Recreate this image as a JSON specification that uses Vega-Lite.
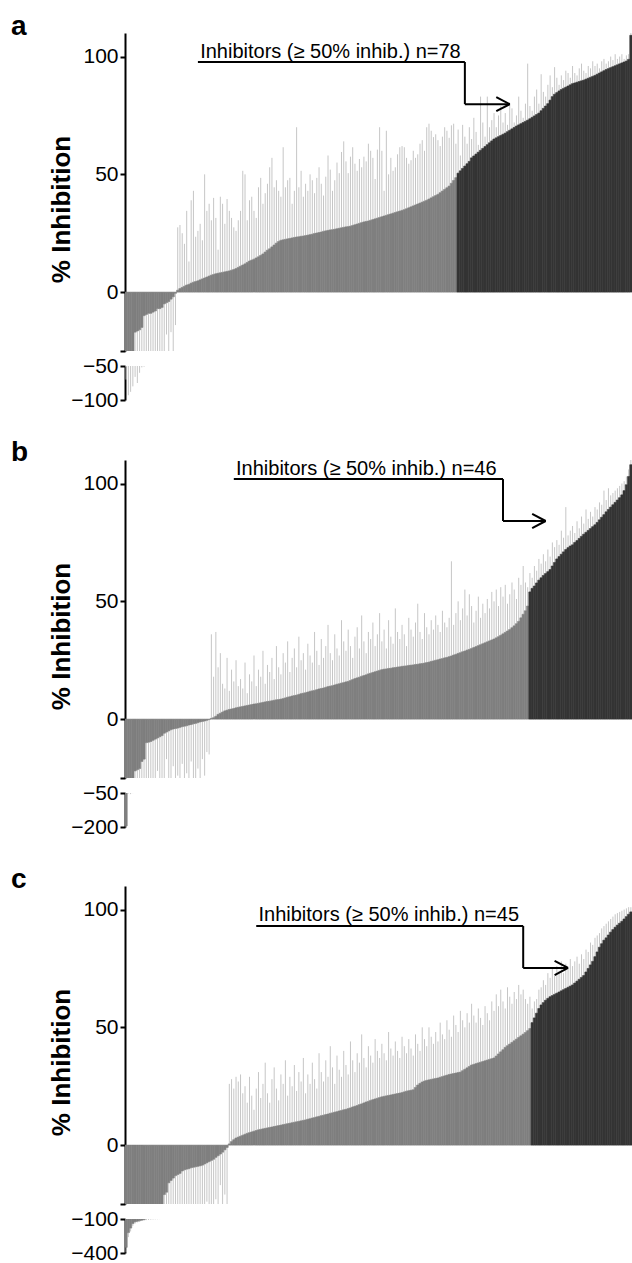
{
"$schema": "https://vega.github.io/schema/vega-lite/v6.json",
"padding": {"left": 11, "top": 13, "right": 0, "bottom": 0},
"datasets": {
"a": [{"v":-44,"h":-70},{"v":-37,"h":-93},{"v":-32,"h":-88},{"v":-28,"h":-80},{"v":-17,"h":-66},{"v":-16.5,"h":-75},{"v":-16,"h":-60},{"v":-15,"h":-52},{"v":-10,"h":-51},{"v":-9.5,"h":-26},{"v":-9,"h":-30},{"v":-9,"h":-27},{"v":-8.5,"h":-28},{"v":-8,"h":-29},{"v":-7,"h":-25},{"v":-7,"h":-30},{"v":-6.5,"h":-26},{"v":-5,"h":-28},{"v":-4.5,"h":-18},{"v":-4,"h":-27},{"v":-3,"h":-17},{"v":-2,"h":-29},{"v":-0.5,"h":-14},
{"v":0.8,"h":27.5},{"v":1.5,"h":28.5},{"v":2,"h":25},{"v":2.5,"h":20.5},{"v":3,"h":34.5},{"v":3.3,"h":13},{"v":3.8,"h":39},{"v":4.2,"h":43},{"v":4.5,"h":23.5},{"v":4.8,"h":26},
{"v":5.2,"h":29},{"v":5.6,"h":22},{"v":6,"h":50},{"v":6.4,"h":34.5},{"v":6.8,"h":37.5},{"v":7.2,"h":30.5},{"v":7.5,"h":40},{"v":7.8,"h":31.5},{"v":8,"h":18},{"v":8.2,"h":40.5},
{"v":8.4,"h":37.5},{"v":8.6,"h":29},{"v":8.8,"h":39.5},{"v":9,"h":34.5},{"v":9.3,"h":31.5},{"v":9.6,"h":27.5},{"v":10,"h":26},{"v":10.5,"h":30.5},{"v":11,"h":34.5},{"v":11.5,"h":51.5},
{"v":12,"h":50},{"v":12.6,"h":30.5},{"v":13.2,"h":39},{"v":13.6,"h":40.5},{"v":14,"h":34.5},{"v":14.5,"h":31.5},{"v":15,"h":44.5},{"v":15.6,"h":48.5},{"v":16.2,"h":37.5},{"v":17,"h":42},
{"v":17.8,"h":46},{"v":18.4,"h":53},{"v":19.2,"h":57},{"v":20,"h":44.5},{"v":20.8,"h":47.5},{"v":21.5,"h":43},{"v":22,"h":40.5},{"v":22.2,"h":61.5},{"v":22.4,"h":44.5},{"v":22.6,"h":47.5},
{"v":22.8,"h":48.5},{"v":23,"h":37.5},{"v":23.2,"h":43},{"v":23.4,"h":70},{"v":23.5,"h":44.5},{"v":23.7,"h":51.5},{"v":23.8,"h":40.5},{"v":24,"h":46},{"v":24.2,"h":43},{"v":24.4,"h":50},
{"v":24.6,"h":47.5},{"v":24.9,"h":42},{"v":25.1,"h":48.5},{"v":25.3,"h":53},{"v":25.5,"h":46},{"v":25.8,"h":41},{"v":26,"h":49},{"v":26.2,"h":58},{"v":26.4,"h":52},{"v":26.5,"h":43},
{"v":26.7,"h":47.5},{"v":26.9,"h":55},{"v":27.1,"h":50.5},{"v":27.3,"h":59.5},{"v":27.5,"h":64},{"v":27.7,"h":55.5},{"v":27.8,"h":50.5},{"v":28,"h":57.5},{"v":28.3,"h":61.5},{"v":28.6,"h":54.5},
{"v":28.9,"h":51.5},{"v":29.2,"h":56.5},{"v":29.5,"h":53},{"v":29.8,"h":57.5},{"v":30,"h":55.5},{"v":30.2,"h":63},{"v":30.5,"h":60},{"v":30.8,"h":57},{"v":31.1,"h":48},{"v":31.4,"h":60.5},
{"v":31.7,"h":70},{"v":32,"h":60},{"v":32.3,"h":43},{"v":32.6,"h":68.5},{"v":32.9,"h":50},{"v":33.2,"h":57},{"v":33.5,"h":51.5},{"v":33.8,"h":53},{"v":34.1,"h":58.5},{"v":34.4,"h":61.5},
{"v":34.7,"h":62},{"v":35,"h":61.5},{"v":35.4,"h":57},{"v":35.8,"h":54.5},{"v":36.2,"h":56},{"v":36.6,"h":60},{"v":37,"h":57},{"v":37.4,"h":58.5},{"v":37.8,"h":63},{"v":38.2,"h":64.5},
{"v":38.6,"h":60},{"v":39,"h":70},{"v":39.5,"h":71.5},{"v":40,"h":68.5},{"v":40.5,"h":65.8},{"v":41,"h":67},{"v":41.5,"h":64.5},{"v":42.2,"h":62},{"v":42.9,"h":66},{"v":43.6,"h":70},
{"v":44.3,"h":68.5},{"v":45,"h":65.5},{"v":46.2,"h":70.8},{"v":47.4,"h":71.5},{"v":48.6,"h":63},
{"v":50.5,"h":69},{"v":51.5,"h":58},{"v":52.5,"h":71},{"v":53.5,"h":66},{"v":54.5,"h":63},{"v":55.5,"h":70},{"v":57,"h":65},{"v":57.8,"h":74},{"v":58.6,"h":68},{"v":59.4,"h":62.5},
{"v":60.2,"h":83},{"v":61,"h":72},{"v":61.8,"h":66},{"v":62.6,"h":83},{"v":63.4,"h":70},{"v":64.2,"h":73},{"v":65,"h":76},{"v":65.5,"h":70},{"v":66,"h":75},{"v":66.5,"h":79},
{"v":67,"h":72},{"v":67.5,"h":76},{"v":68.1,"h":71},{"v":68.7,"h":80},{"v":69.3,"h":78},{"v":69.9,"h":72},{"v":70.5,"h":75},{"v":71,"h":83},{"v":71.5,"h":77},{"v":72,"h":74},
{"v":72.5,"h":80},{"v":73,"h":97},{"v":73.6,"h":79},{"v":74.2,"h":77},{"v":74.8,"h":83},{"v":75.4,"h":86},{"v":76,"h":80},{"v":77,"h":92.5},{"v":78,"h":85},{"v":79,"h":83},
{"v":80,"h":88},{"v":81.5,"h":92},{"v":83,"h":87},{"v":84,"h":95.5},{"v":84.7,"h":91},{"v":85.4,"h":88},{"v":86,"h":92},{"v":86.5,"h":90},{"v":87,"h":94},{"v":87.5,"h":93},
{"v":88,"h":91},{"v":88.5,"h":96},{"v":88.8,"h":93},{"v":89.1,"h":92},{"v":89.4,"h":95},{"v":89.7,"h":97},{"v":90,"h":94},{"v":90.4,"h":93},{"v":90.8,"h":96},{"v":91.2,"h":95},
{"v":91.6,"h":98},{"v":92,"h":96},{"v":92.5,"h":97},{"v":93,"h":95},{"v":93.5,"h":98},{"v":94,"h":99},{"v":94.5,"h":97},{"v":94.9,"h":98},{"v":95.3,"h":100},{"v":95.7,"h":98.5},
{"v":96.1,"h":101},{"v":96.5,"h":99},{"v":96.9,"h":100},{"v":97.3,"h":101},{"v":97.7,"h":99},{"v":98.1,"h":100.5},{"v":98.8,"h":101},{"v":109,"h":110}],
"b": [{"v":-195,"h":-200},{"v":-32,"h":-52},{"v":-28,"h":-55},{"v":-26,"h":-50.5},{"v":-22,"h":-45},{"v":-21.5,"h":-36},{"v":-21,"h":-31},{"v":-18,"h":-35},{"v":-17,"h":-32},{"v":-10,"h":-30},
{"v":-9.8,"h":-28},{"v":-9.5,"h":-29},{"v":-9,"h":-31},{"v":-8.5,"h":-27},{"v":-8,"h":-22},{"v":-7.5,"h":-31},{"v":-7,"h":-26},{"v":-6,"h":-30},{"v":-5.5,"h":-17},{"v":-5,"h":-25},
{"v":-4.5,"h":-32},{"v":-4.2,"h":-20},{"v":-4,"h":-30},{"v":-3.8,"h":-24},{"v":-3.5,"h":-28},{"v":-3.2,"h":-19},{"v":-3,"h":-30},{"v":-2.8,"h":-23},{"v":-2.5,"h":-27},{"v":-2.3,"h":-18},
{"v":-2,"h":-30},{"v":-1.8,"h":-25},{"v":-1.5,"h":-21},{"v":-1.2,"h":-30},{"v":-1,"h":-17},{"v":-0.8,"h":-24},{"v":-0.5,"h":-14},{"v":-0.2,"h":-15},
{"v":0.3,"h":36},{"v":0.6,"h":18},{"v":1.2,"h":37},{"v":2,"h":22},{"v":2.5,"h":28},{"v":3,"h":15},{"v":3.5,"h":13},{"v":3.8,"h":26},{"v":4.1,"h":12},{"v":4.3,"h":21},
{"v":4.5,"h":16},{"v":4.8,"h":25},{"v":5,"h":14},{"v":5.2,"h":17},{"v":5.4,"h":13},{"v":5.6,"h":24},{"v":5.8,"h":11},{"v":6,"h":19},{"v":6.2,"h":16},{"v":6.4,"h":27},
{"v":6.5,"h":14},{"v":6.7,"h":21},{"v":6.9,"h":18},{"v":7.1,"h":29},{"v":7.3,"h":15},{"v":7.5,"h":23},{"v":7.6,"h":20},{"v":7.8,"h":26},{"v":8,"h":17},{"v":8.2,"h":31},
{"v":8.3,"h":22},{"v":8.5,"h":19},{"v":8.7,"h":28},{"v":9,"h":24},{"v":9.3,"h":33},{"v":9.5,"h":20},{"v":9.8,"h":26},{"v":10,"h":30},{"v":10.2,"h":22},{"v":10.5,"h":35},
{"v":10.8,"h":25},{"v":11,"h":28},{"v":11.2,"h":21},{"v":11.5,"h":32},{"v":11.8,"h":27},{"v":12,"h":24},{"v":12.2,"h":37},{"v":12.5,"h":29},{"v":12.8,"h":23},{"v":13,"h":34},
{"v":13.2,"h":26},{"v":13.5,"h":31},{"v":13.8,"h":40},{"v":14,"h":28},{"v":14.2,"h":25},{"v":14.5,"h":36},{"v":14.8,"h":30},{"v":15,"h":27},{"v":15.3,"h":42},{"v":15.5,"h":33},
{"v":15.8,"h":29},{"v":16,"h":38},{"v":16.4,"h":31},{"v":16.8,"h":26},{"v":17.2,"h":35},{"v":17.5,"h":39},{"v":17.8,"h":30},{"v":18.2,"h":44},{"v":18.5,"h":33},{"v":18.8,"h":28},
{"v":19.2,"h":37},{"v":19.5,"h":34},{"v":19.8,"h":41},{"v":20.1,"h":31},{"v":20.4,"h":36},{"v":20.7,"h":45},{"v":21,"h":33},{"v":21.2,"h":38},{"v":21.3,"h":30},{"v":21.5,"h":42},
{"v":21.6,"h":35},{"v":21.8,"h":32},{"v":21.9,"h":47},{"v":22.1,"h":37},{"v":22.2,"h":34},{"v":22.4,"h":40},{"v":22.5,"h":36},{"v":22.6,"h":31},{"v":22.8,"h":43},{"v":22.9,"h":38},
{"v":23,"h":35},{"v":23.2,"h":41},{"v":23.3,"h":49},{"v":23.5,"h":37},{"v":23.6,"h":34},{"v":23.8,"h":45},{"v":24,"h":39},{"v":24.2,"h":36},{"v":24.5,"h":42},{"v":24.7,"h":38},
{"v":25,"h":44},{"v":25.2,"h":40},{"v":25.5,"h":37},{"v":25.7,"h":46},{"v":26,"h":41},{"v":26.2,"h":39},{"v":26.5,"h":43},{"v":26.8,"h":67},{"v":27.2,"h":40},{"v":27.5,"h":45},
{"v":27.9,"h":50},{"v":28.2,"h":42},{"v":28.6,"h":47},{"v":28.9,"h":55},{"v":29.3,"h":44},{"v":29.6,"h":53},{"v":30,"h":48},{"v":30.4,"h":41},{"v":30.8,"h":46},{"v":31.2,"h":52},
{"v":31.6,"h":43},{"v":32,"h":49},{"v":32.4,"h":45},{"v":32.8,"h":51},{"v":33.2,"h":47},{"v":33.6,"h":54},{"v":34,"h":50},{"v":34.5,"h":55},{"v":35,"h":48},{"v":35.6,"h":56},
{"v":36.2,"h":52},{"v":36.8,"h":57},{"v":37.4,"h":49},{"v":38,"h":53},{"v":38.8,"h":58},{"v":39.6,"h":55},{"v":40.5,"h":51},{"v":41.5,"h":60},{"v":43,"h":57},{"v":44.5,"h":65},
{"v":46,"h":58},{"v":48,"h":56},
{"v":54,"h":62},{"v":55.5,"h":60},{"v":56.5,"h":65},{"v":57.8,"h":63},{"v":59,"h":68},{"v":60,"h":66},{"v":61,"h":70},{"v":61.8,"h":67},{"v":62.6,"h":72},{"v":63.5,"h":69},
{"v":65,"h":75},{"v":66.5,"h":73},{"v":68,"h":76},{"v":69,"h":74},{"v":70,"h":80},{"v":71,"h":77},{"v":72,"h":90},{"v":72.8,"h":78},{"v":73.5,"h":80},{"v":74,"h":82},
{"v":75,"h":79},{"v":75.8,"h":84},{"v":76.7,"h":81},{"v":77.6,"h":86},{"v":78.5,"h":83},{"v":79.3,"h":89},{"v":80.1,"h":85},{"v":80.9,"h":88},{"v":81.7,"h":86},{"v":82.5,"h":90},
{"v":83.5,"h":89},{"v":84.6,"h":92},{"v":85.7,"h":91},{"v":86.8,"h":97},{"v":88,"h":93},{"v":89,"h":98},{"v":90,"h":95},{"v":91,"h":96},{"v":92,"h":97},{"v":93,"h":98},
{"v":94,"h":99},{"v":95.2,"h":100},{"v":97,"h":101},{"v":99.5,"h":103},{"v":103,"h":106},{"v":108,"h":110}],
"c": [{"v":-350,"h":-395},{"v":-220,"h":-260},{"v":-180,"h":-210},{"v":-140,"h":-160},{"v":-125,"h":-140},{"v":-120,"h":-130},{"v":-115,"h":-125},{"v":-110,"h":-118},{"v":-106,"h":-112},{"v":-96,"h":-110},
{"v":-88,"h":-108},{"v":-75,"h":-106},{"v":-62,"h":-104},{"v":-50,"h":-103},{"v":-40,"h":-102},{"v":-33,"h":-101},{"v":-28,"h":-60},{"v":-21,"h":-45},{"v":-20,"h":-40},{"v":-16,"h":-30},
{"v":-15,"h":-28},{"v":-14,"h":-32},{"v":-13,"h":-27},{"v":-12.5,"h":-30},{"v":-12,"h":-29},{"v":-11,"h":-26},{"v":-10.5,"h":-31},{"v":-10.2,"h":-27},{"v":-10,"h":-30},{"v":-9.6,"h":-25},
{"v":-9.4,"h":-28},{"v":-9.2,"h":-31},{"v":-9,"h":-27},{"v":-8.8,"h":-29},{"v":-8.5,"h":-26},{"v":-8,"h":-30},{"v":-7.5,"h":-24},{"v":-7,"h":-28},{"v":-6.5,"h":-26},{"v":-6,"h":-29},
{"v":-5.2,"h":-23},{"v":-4.5,"h":-27},{"v":-3.8,"h":-17},{"v":-3,"h":-30},{"v":-2,"h":-21},{"v":-1,"h":-25},
{"v":0.5,"h":26},{"v":1.5,"h":28},{"v":2.3,"h":24},{"v":3,"h":29},{"v":3.4,"h":27},{"v":3.8,"h":30},{"v":4.2,"h":22},{"v":4.6,"h":25},{"v":5,"h":18},{"v":5.3,"h":29},
{"v":5.6,"h":21},{"v":5.9,"h":15},{"v":6.2,"h":24},{"v":6.5,"h":31},{"v":6.7,"h":20},{"v":6.9,"h":26},{"v":7.1,"h":35},{"v":7.3,"h":22},{"v":7.5,"h":18},{"v":7.7,"h":28},
{"v":7.9,"h":33},{"v":8.1,"h":24},{"v":8.3,"h":19},{"v":8.5,"h":30},{"v":8.7,"h":26},{"v":8.9,"h":36},{"v":9.1,"h":21},{"v":9.3,"h":29},{"v":9.5,"h":25},{"v":9.7,"h":34},
{"v":9.9,"h":23},{"v":10.1,"h":31},{"v":10.3,"h":27},{"v":10.5,"h":37},{"v":10.7,"h":22},{"v":11,"h":30},{"v":11.2,"h":26},{"v":11.5,"h":35},{"v":11.7,"h":28},{"v":12,"h":24},
{"v":12.2,"h":39},{"v":12.5,"h":31},{"v":12.7,"h":27},{"v":13,"h":36},{"v":13.2,"h":29},{"v":13.5,"h":42},{"v":13.7,"h":33},{"v":14,"h":26},{"v":14.2,"h":38},{"v":14.5,"h":32},
{"v":14.7,"h":29},{"v":15,"h":40},{"v":15.2,"h":34},{"v":15.5,"h":30},{"v":15.8,"h":44},{"v":16.2,"h":36},{"v":16.5,"h":31},{"v":16.8,"h":39},{"v":17.2,"h":35},{"v":17.5,"h":47},
{"v":17.9,"h":37},{"v":18.3,"h":33},{"v":18.6,"h":42},{"v":19,"h":38},{"v":19.3,"h":35},{"v":19.6,"h":45},{"v":19.9,"h":40},{"v":20.2,"h":37},{"v":20.5,"h":43},{"v":20.7,"h":39},
{"v":20.9,"h":36},{"v":21.1,"h":48},{"v":21.3,"h":41},{"v":21.5,"h":38},{"v":21.7,"h":44},{"v":21.9,"h":40},{"v":22.1,"h":37},{"v":22.3,"h":46},{"v":22.6,"h":42},{"v":22.9,"h":39},
{"v":23.1,"h":45},{"v":23.3,"h":41},{"v":23.5,"h":38},{"v":24.5,"h":47},{"v":25.5,"h":43},{"v":26.2,"h":40},{"v":26.8,"h":50},{"v":27.2,"h":45},{"v":27.5,"h":42},{"v":27.7,"h":50},
{"v":27.9,"h":46},{"v":28.1,"h":43},{"v":28.3,"h":48},{"v":28.5,"h":44},{"v":28.8,"h":52},{"v":29.1,"h":47},{"v":29.4,"h":45},{"v":29.7,"h":53},{"v":30,"h":49},{"v":30.2,"h":46},
{"v":30.4,"h":55},{"v":30.6,"h":51},{"v":30.8,"h":48},{"v":31,"h":57},{"v":31.6,"h":53},{"v":32.2,"h":50},{"v":32.8,"h":56},{"v":33.4,"h":52},{"v":34,"h":60},{"v":34.3,"h":55},
{"v":34.6,"h":52},{"v":34.9,"h":58},{"v":35.2,"h":54},{"v":35.5,"h":51},{"v":35.8,"h":59},{"v":36.1,"h":56},{"v":36.4,"h":53},{"v":36.7,"h":61},{"v":37,"h":57},{"v":37.8,"h":64},
{"v":38.7,"h":59},{"v":39.6,"h":66},{"v":40.5,"h":61},{"v":41.5,"h":58},{"v":42.2,"h":67},{"v":42.9,"h":63},{"v":43.6,"h":60},{"v":44.3,"h":65},{"v":45,"h":62},{"v":45.7,"h":68},
{"v":46.4,"h":64},{"v":47.1,"h":66},{"v":47.8,"h":62},{"v":48.6,"h":60},{"v":49.5,"h":63},
{"v":52,"h":58},{"v":54,"h":61},{"v":56,"h":62},{"v":58,"h":66},{"v":59.5,"h":67},{"v":60.5,"h":70},{"v":61.5,"h":68},{"v":62.3,"h":73},{"v":63,"h":71},{"v":63.5,"h":75},
{"v":64,"h":72},{"v":64.5,"h":76},{"v":65,"h":74},{"v":65.5,"h":78},{"v":66,"h":73},{"v":66.5,"h":77},{"v":67,"h":75},{"v":67.5,"h":79},{"v":68,"h":76},{"v":68.8,"h":78},
{"v":69.6,"h":80},{"v":70.4,"h":77},{"v":71.2,"h":81},{"v":72,"h":79},{"v":73.5,"h":83},{"v":75,"h":82},{"v":76.5,"h":86},{"v":78,"h":85},{"v":80,"h":88},{"v":82,"h":89},
{"v":84,"h":90},{"v":85.5,"h":92},{"v":87,"h":93},{"v":88,"h":94},{"v":89.2,"h":95},{"v":90.4,"h":96},{"v":91.5,"h":97},{"v":92.5,"h":98},{"v":93.4,"h":98.5},{"v":94.2,"h":99},
{"v":95,"h":99.5},{"v":96,"h":100},{"v":97,"h":100.5},{"v":98,"h":101},{"v":99,"h":101}]
},
"vconcat": [
{"vconcat": [
 {"width": 507, "height": 318,
  "title": {"text": "a", "anchor": "start", "frame": "group", "dx": -114, "dy": 30, "offset": 0, "baseline": "alphabetic", "fontSize": 28, "fontWeight": "bold", "font": "Liberation Sans", "color": "black"},
  "layer": [
   {"data": {"name": "a"}, "transform": [{"window": [{"op": "row_number", "as": "i"}]}],
    "layer": [
     {"mark": {"type": "rule", "clip": true, "color": "#c6c6c6", "strokeWidth": 1},
      "encoding": {"x": {"field": "i", "type": "ordinal", "scale": {"paddingInner": 0, "paddingOuter": 0}, "axis": null},
       "y": {"field": "v", "type": "quantitative", "title": "% Inhibition", "scale": {"domain": [-25, 110], "nice": false, "zero": false}, "axis": {"values": [-25, 0, 50, 100], "labelExpr": "datum.value == -25 ? '' : datum.label", "titleY": 176, "titlePadding": 8}},
       "y2": {"field": "h"}}},
     {"mark": {"type": "bar", "clip": true, "strokeWidth": 0.6},
      "encoding": {"x": {"field": "i", "type": "ordinal", "axis": null}, "y": {"field": "v", "type": "quantitative", "title": "% Inhibition"}, "y2": {"datum": 0},
       "fill": {"condition": {"test": "datum.v >= 50", "value": "#343434"}, "value": "#7f7f7f"},
       "stroke": {"condition": {"test": "datum.v >= 50", "value": "#343434"}, "value": "#7f7f7f"}}}
    ]},
   {"mark": {"type": "rule", "color": "black", "strokeWidth": 2}, "encoding": {"y": {"datum": 0}}},
   {"mark": {"type": "rule", "color": "black", "strokeWidth": 2.5, "strokeDash": [3, 5]}, "encoding": {"y": {"datum": 50}}},
   {"data": {"values": [{"i": 33, "i2": 152, "y": 97.7, "y2": 97.7}, {"i": 152, "i2": 152, "y": 97.7, "y2": 79.8}, {"i": 152, "i2": 172, "y": 79.8, "y2": 79.8}, {"i": 166, "i2": 172, "y": 82.8, "y2": 79.8}, {"i": 166, "i2": 172, "y": 76.8, "y2": 79.8}]},
    "mark": {"type": "rule", "color": "black", "strokeWidth": 2},
    "encoding": {"x": {"field": "i", "type": "ordinal", "axis": null}, "x2": {"field": "i2"}, "y": {"field": "y", "type": "quantitative", "title": "% Inhibition"}, "y2": {"field": "y2"}}},
   {"data": {"values": [{"i": 34, "y": 99.4, "t": "Inhibitors (≥ 50% inhib.) n=78"}]},
    "mark": {"type": "text", "align": "left", "baseline": "alphabetic", "font": "Liberation Sans", "fontSize": 20, "color": "black"},
    "encoding": {"x": {"field": "i", "type": "ordinal", "axis": null}, "y": {"field": "y", "type": "quantitative", "title": "% Inhibition"}, "text": {"field": "t"}}}
  ]},
 {"width": 507, "height": 34,
  "data": {"name": "a"}, "transform": [{"window": [{"op": "row_number", "as": "i"}]}],
  "layer": [
   {"mark": {"type": "rule", "clip": true, "color": "#c6c6c6", "strokeWidth": 1},
    "encoding": {"x": {"field": "i", "type": "ordinal", "scale": {"paddingInner": 0, "paddingOuter": 0}, "axis": null},
     "y": {"field": "v", "type": "quantitative", "title": null, "scale": {"domain": [-100, -50], "nice": false, "zero": false}, "axis": {"values": [-50, -100]}},
     "y2": {"field": "h"}}},
   {"mark": {"type": "bar", "clip": true, "strokeWidth": 0.6, "fill": "#7f7f7f", "stroke": "#7f7f7f"},
    "encoding": {"x": {"field": "i", "type": "ordinal", "axis": null}, "y": {"field": "v", "type": "quantitative", "title": null}, "y2": {"datum": 0}}}
  ]}
], "spacing": 15, "bounds": "flush"},
{"vconcat": [
 {"width": 507, "height": 318,
  "title": {"text": "b", "anchor": "start", "frame": "group", "dx": -114, "dy": 30, "offset": 0, "baseline": "alphabetic", "fontSize": 28, "fontWeight": "bold", "font": "Liberation Sans", "color": "black"},
  "layer": [
   {"data": {"name": "b"}, "transform": [{"window": [{"op": "row_number", "as": "i"}]}],
    "layer": [
     {"mark": {"type": "rule", "clip": true, "color": "#c6c6c6", "strokeWidth": 1},
      "encoding": {"x": {"field": "i", "type": "ordinal", "scale": {"paddingInner": 0, "paddingOuter": 0}, "axis": null},
       "y": {"field": "v", "type": "quantitative", "title": "% Inhibition", "scale": {"domain": [-25, 110], "nice": false, "zero": false}, "axis": {"values": [-25, 0, 50, 100], "labelExpr": "datum.value == -25 ? '' : datum.label", "titleY": 176, "titlePadding": 8}},
       "y2": {"field": "h"}}},
     {"mark": {"type": "bar", "clip": true, "strokeWidth": 0.6},
      "encoding": {"x": {"field": "i", "type": "ordinal", "axis": null}, "y": {"field": "v", "type": "quantitative", "title": "% Inhibition"}, "y2": {"datum": 0},
       "fill": {"condition": {"test": "datum.v >= 50", "value": "#343434"}, "value": "#7f7f7f"},
       "stroke": {"condition": {"test": "datum.v >= 50", "value": "#343434"}, "value": "#7f7f7f"}}}
    ]},
   {"mark": {"type": "rule", "color": "black", "strokeWidth": 2}, "encoding": {"y": {"datum": 0}}},
   {"mark": {"type": "rule", "color": "black", "strokeWidth": 2.5, "strokeDash": [3, 5]}, "encoding": {"y": {"datum": 50}}},
   {"data": {"values": [{"i": 49, "i2": 169, "y": 101.9, "y2": 101.9}, {"i": 169, "i2": 169, "y": 101.9, "y2": 84.1}, {"i": 169, "i2": 188, "y": 84.1, "y2": 84.1}, {"i": 182, "i2": 188, "y": 87.1, "y2": 84.1}, {"i": 182, "i2": 188, "y": 81.1, "y2": 84.1}]},
    "mark": {"type": "rule", "color": "black", "strokeWidth": 2},
    "encoding": {"x": {"field": "i", "type": "ordinal", "axis": null}, "x2": {"field": "i2"}, "y": {"field": "y", "type": "quantitative", "title": "% Inhibition"}, "y2": {"field": "y2"}}},
   {"data": {"values": [{"i": 50, "y": 103.6, "t": "Inhibitors (≥ 50% inhib.) n=46"}]},
    "mark": {"type": "text", "align": "left", "baseline": "alphabetic", "font": "Liberation Sans", "fontSize": 20, "color": "black"},
    "encoding": {"x": {"field": "i", "type": "ordinal", "axis": null}, "y": {"field": "y", "type": "quantitative", "title": "% Inhibition"}, "text": {"field": "t"}}}
  ]},
 {"width": 507, "height": 34,
  "data": {"name": "b"}, "transform": [{"window": [{"op": "row_number", "as": "i"}]}],
  "layer": [
   {"mark": {"type": "rule", "clip": true, "color": "#c6c6c6", "strokeWidth": 1},
    "encoding": {"x": {"field": "i", "type": "ordinal", "scale": {"paddingInner": 0, "paddingOuter": 0}, "axis": null},
     "y": {"field": "v", "type": "quantitative", "title": null, "scale": {"domain": [-200, -50], "nice": false, "zero": false}, "axis": {"values": [-50, -200]}},
     "y2": {"field": "h"}}},
   {"mark": {"type": "bar", "clip": true, "strokeWidth": 0.6, "fill": "#7f7f7f", "stroke": "#7f7f7f"},
    "encoding": {"x": {"field": "i", "type": "ordinal", "axis": null}, "y": {"field": "v", "type": "quantitative", "title": null}, "y2": {"datum": 0}}}
  ]}
], "spacing": 15, "bounds": "flush"},
{"vconcat": [
 {"width": 507, "height": 318,
  "title": {"text": "c", "anchor": "start", "frame": "group", "dx": -114, "dy": 30, "offset": 0, "baseline": "alphabetic", "fontSize": 28, "fontWeight": "bold", "font": "Liberation Sans", "color": "black"},
  "layer": [
   {"data": {"name": "c"}, "transform": [{"window": [{"op": "row_number", "as": "i"}]}],
    "layer": [
     {"mark": {"type": "rule", "clip": true, "color": "#c6c6c6", "strokeWidth": 1},
      "encoding": {"x": {"field": "i", "type": "ordinal", "scale": {"paddingInner": 0, "paddingOuter": 0}, "axis": null},
       "y": {"field": "v", "type": "quantitative", "title": "% Inhibition", "scale": {"domain": [-25, 110], "nice": false, "zero": false}, "axis": {"values": [-25, 0, 50, 100], "labelExpr": "datum.value == -25 ? '' : datum.label", "titleY": 176, "titlePadding": 8}},
       "y2": {"field": "h"}}},
     {"mark": {"type": "bar", "clip": true, "strokeWidth": 0.6},
      "encoding": {"x": {"field": "i", "type": "ordinal", "axis": null}, "y": {"field": "v", "type": "quantitative", "title": "% Inhibition"}, "y2": {"datum": 0},
       "fill": {"condition": {"test": "datum.v >= 50", "value": "#343434"}, "value": "#7f7f7f"},
       "stroke": {"condition": {"test": "datum.v >= 50", "value": "#343434"}, "value": "#7f7f7f"}}}
    ]},
   {"mark": {"type": "rule", "color": "black", "strokeWidth": 2}, "encoding": {"y": {"datum": 0}}},
   {"mark": {"type": "rule", "color": "black", "strokeWidth": 2.5, "strokeDash": [3, 5]}, "encoding": {"y": {"datum": 50}}},
   {"data": {"values": [{"i": 59, "i2": 178, "y": 93, "y2": 93}, {"i": 178, "i2": 178, "y": 93, "y2": 75.2}, {"i": 178, "i2": 198, "y": 75.2, "y2": 75.2}, {"i": 192, "i2": 198, "y": 78.2, "y2": 75.2}, {"i": 192, "i2": 198, "y": 72.2, "y2": 75.2}]},
    "mark": {"type": "rule", "color": "black", "strokeWidth": 2},
    "encoding": {"x": {"field": "i", "type": "ordinal", "axis": null}, "x2": {"field": "i2"}, "y": {"field": "y", "type": "quantitative", "title": "% Inhibition"}, "y2": {"field": "y2"}}},
   {"data": {"values": [{"i": 60, "y": 95.1, "t": "Inhibitors (≥ 50% inhib.) n=45"}]},
    "mark": {"type": "text", "align": "left", "baseline": "alphabetic", "font": "Liberation Sans", "fontSize": 20, "color": "black"},
    "encoding": {"x": {"field": "i", "type": "ordinal", "axis": null}, "y": {"field": "y", "type": "quantitative", "title": "% Inhibition"}, "text": {"field": "t"}}}
  ]},
 {"width": 507, "height": 34,
  "data": {"name": "c"}, "transform": [{"window": [{"op": "row_number", "as": "i"}]}],
  "layer": [
   {"mark": {"type": "rule", "clip": true, "color": "#c6c6c6", "strokeWidth": 1},
    "encoding": {"x": {"field": "i", "type": "ordinal", "scale": {"paddingInner": 0, "paddingOuter": 0}, "axis": null},
     "y": {"field": "v", "type": "quantitative", "title": null, "scale": {"domain": [-400, -100], "nice": false, "zero": false}, "axis": {"values": [-100, -400]}},
     "y2": {"field": "h"}}},
   {"mark": {"type": "bar", "clip": true, "strokeWidth": 0.6, "fill": "#7f7f7f", "stroke": "#7f7f7f"},
    "encoding": {"x": {"field": "i", "type": "ordinal", "axis": null}, "y": {"field": "v", "type": "quantitative", "title": null}, "y2": {"datum": 0}}}
  ]}
], "spacing": 15, "bounds": "flush"}
],
"spacing": 29,
"config": {
 "view": {"stroke": null},
 "axis": {"domainColor": "black", "domainWidth": 2, "tickColor": "black", "tickWidth": 2, "tickSize": 5, "labelFont": "Liberation Sans", "labelFontSize": 21, "labelColor": "black", "labelPadding": 2, "grid": false, "titleFont": "Liberation Sans", "titleFontSize": 26, "titleFontWeight": "bold", "titleColor": "black"}
}
}
